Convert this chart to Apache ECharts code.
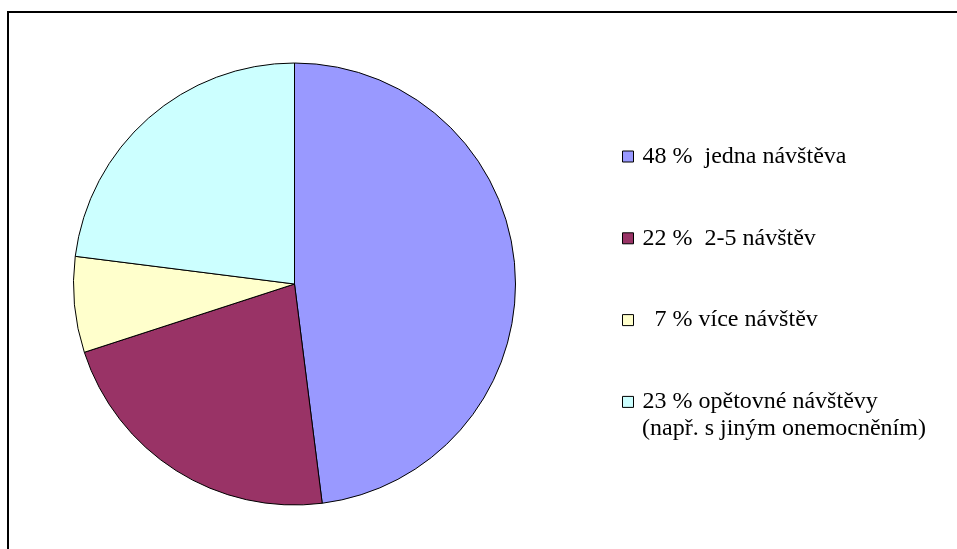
<!DOCTYPE html>
<html>
<head>
<meta charset="utf-8">
<script src="https://cdn.jsdelivr.net/npm/echarts@6/dist/echarts.min.js"></script>
<style>
  html, body { margin: 0; padding: 0; background: #fff; font-family: 'Liberation Serif'; }
  #frame {
    position: absolute; left: 7px; top: 11px; right: 0; bottom: 0;
    border-left: 2px solid #000; border-top: 2px solid #000;
  }
  #pieChart { position: absolute; left: 0; top: 0; width: 957px; height: 549px; }
  #fontWarm { position: absolute; left: -9999px; top: 0; font: 24px 'Liberation Serif'; }
</style>
</head>
<body>
<div id="fontWarm">48 % návštěva opětovné onemocněním</div>
<div id="frame"></div>
<div id="pieChart"></div>
<script>
// kategorie a hodnoty
const names = ['jedna návštěva', '2-5 návštěv', 'více návštěv', 'opětovné návštěvy']
const values = [48, 22, 7, 23]
const colors = ['#9999ff', '#993366', '#ffffcc', '#ccffff']
// popisky legendy
const legendLabels = ['48 %  jedna návštěva', '22 %  2-5 návštěv', '  7 % více návštěv', '23 % opětovné návštěvy']
const legendNote = '(např. s jiným onemocněním)'

function drawChart() {
  const chart = echarts.init(document.getElementById('pieChart'))
  const option = {
    animation: false,
    color: colors,
    textStyle: { fontFamily: 'Liberation Serif' },
    legend: {
      orient: 'vertical',
      left: 622,
      top: 144.5,
      padding: 0,
      itemGap: 57.8,
      itemWidth: 11,
      itemHeight: 11,
      icon: 'rect',
      itemStyle: { borderColor: '#000', borderWidth: 1 },
      textStyle: {
        fontFamily: 'Liberation Serif',
        fontSize: 24,
        lineHeight: 24,
        color: '#000',
        padding: [0, 0, 0, 4]
      },
      formatter: function(name) {
        return legendLabels[names.indexOf(name)]
      },
      data: names
    },
    graphic: [
      {
        type: 'text',
        left: 642,
        top: 416.5,
        style: {
          text: legendNote,
          fontFamily: 'Liberation Serif',
          fontSize: 24,
          fill: '#000'
        }
      }
    ],
    series: [
      {
        type: 'pie',
        center: [294.5, 284],
        radius: 221,
        startAngle: 90,
        clockwise: true,
        label: { show: false },
        labelLine: { show: false },
        emphasis: { disabled: true },
        itemStyle: { borderColor: '#000', borderWidth: 1 },
        data: names.map((n, i) => ({ name: n, value: values[i] }))
      }
    ]
  }
  chart.setOption(option, true)
}

// počkat na písmo, jinak canvas vezme náhradní
if (document.fonts && document.fonts.load) {
  document.fonts.load('24px "Liberation Serif"').then(drawChart, drawChart)
} else {
  drawChart()
}
</script>
</body>
</html>
